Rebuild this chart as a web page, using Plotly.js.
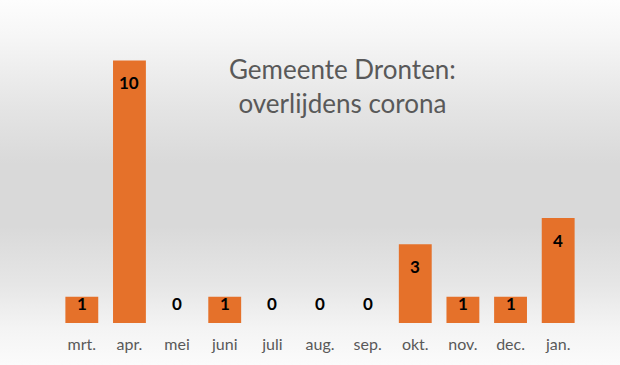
<!DOCTYPE html>
<html>
<head>
<meta charset="utf-8">
<script src="https://cdn.plot.ly/plotly-3.0.1.min.js"></script>
<style>
  html, body { margin: 0; padding: 0; }
  #chart {
    width: 620px; height: 365px;
    background: linear-gradient(to bottom, #fdfdfd 0%, #f6f6f6 10%, #e4e4e4 30%, #d9d9d9 45%, #d9d9d9 62%, #e6e6e6 78%, #f4f4f4 90%, #fbfbfb 100%);
  }
</style>
</head>
<body>
<div id="chart"></div>
<script>
const months = ['mrt.', 'apr.', 'mei', 'juni', 'juli', 'aug.', 'sep.', 'okt.', 'nov.', 'dec.', 'jan.'];
const deaths = [1, 10, 0, 1, 0, 0, 0, 3, 1, 1, 4];
const titleLines = ['Gemeente Dronten:', 'overlijdens corona'];

const H = 365, mt = 8, mb = 42;
const yMax = 12;
const pxPerUnit = (H - mt - mb) / yMax;

const annotations = deaths.map((v, i) => {
  const drop = Math.min(22, pxPerUnit * v - 20);
  return {
    x: months[i], y: v, xref: 'x', yref: 'y',
    text: String(v), showarrow: false,
    yanchor: 'middle', yshift: -drop,
    font: { family: 'Lato, Carlito, sans-serif', size: 17, color: '#000000', weight: 'bold' }
  };
});
annotations.push({
  xref: 'paper', yref: 'paper', x: 0.542, y: 0.752, xanchor: 'center', yanchor: 'middle',
  text: titleLines.join('<br>'), showarrow: false, align: 'center',
  font: { family: 'Lato, Carlito, sans-serif', size: 26, color: '#595959' }
});

const trace = {
  type: 'bar', x: months, y: deaths,
  marker: { color: '#E5712A', line: { width: 0 } },
  hoverinfo: 'skip'
};

const layout = {
  width: 620, height: H,
  margin: { l: 58, r: 38, t: mt, b: mb },
  paper_bgcolor: 'rgba(0,0,0,0)', plot_bgcolor: 'rgba(0,0,0,0)',
  bargap: 0.31,
  showlegend: false,
  xaxis: {
    type: 'category', showgrid: false, zeroline: false, showline: false, ticks: '',
    tickfont: { family: 'Lato, Carlito, sans-serif', size: 16, color: '#595959' },
    ticklabelstandoff: 10
  },
  yaxis: { range: [0, yMax], visible: false, showgrid: false, zeroline: false, fixedrange: true },
  annotations: annotations
};

Plotly.newPlot('chart', [trace], layout, { staticPlot: true, displayModeBar: false });
</script>
</body>
</html>
